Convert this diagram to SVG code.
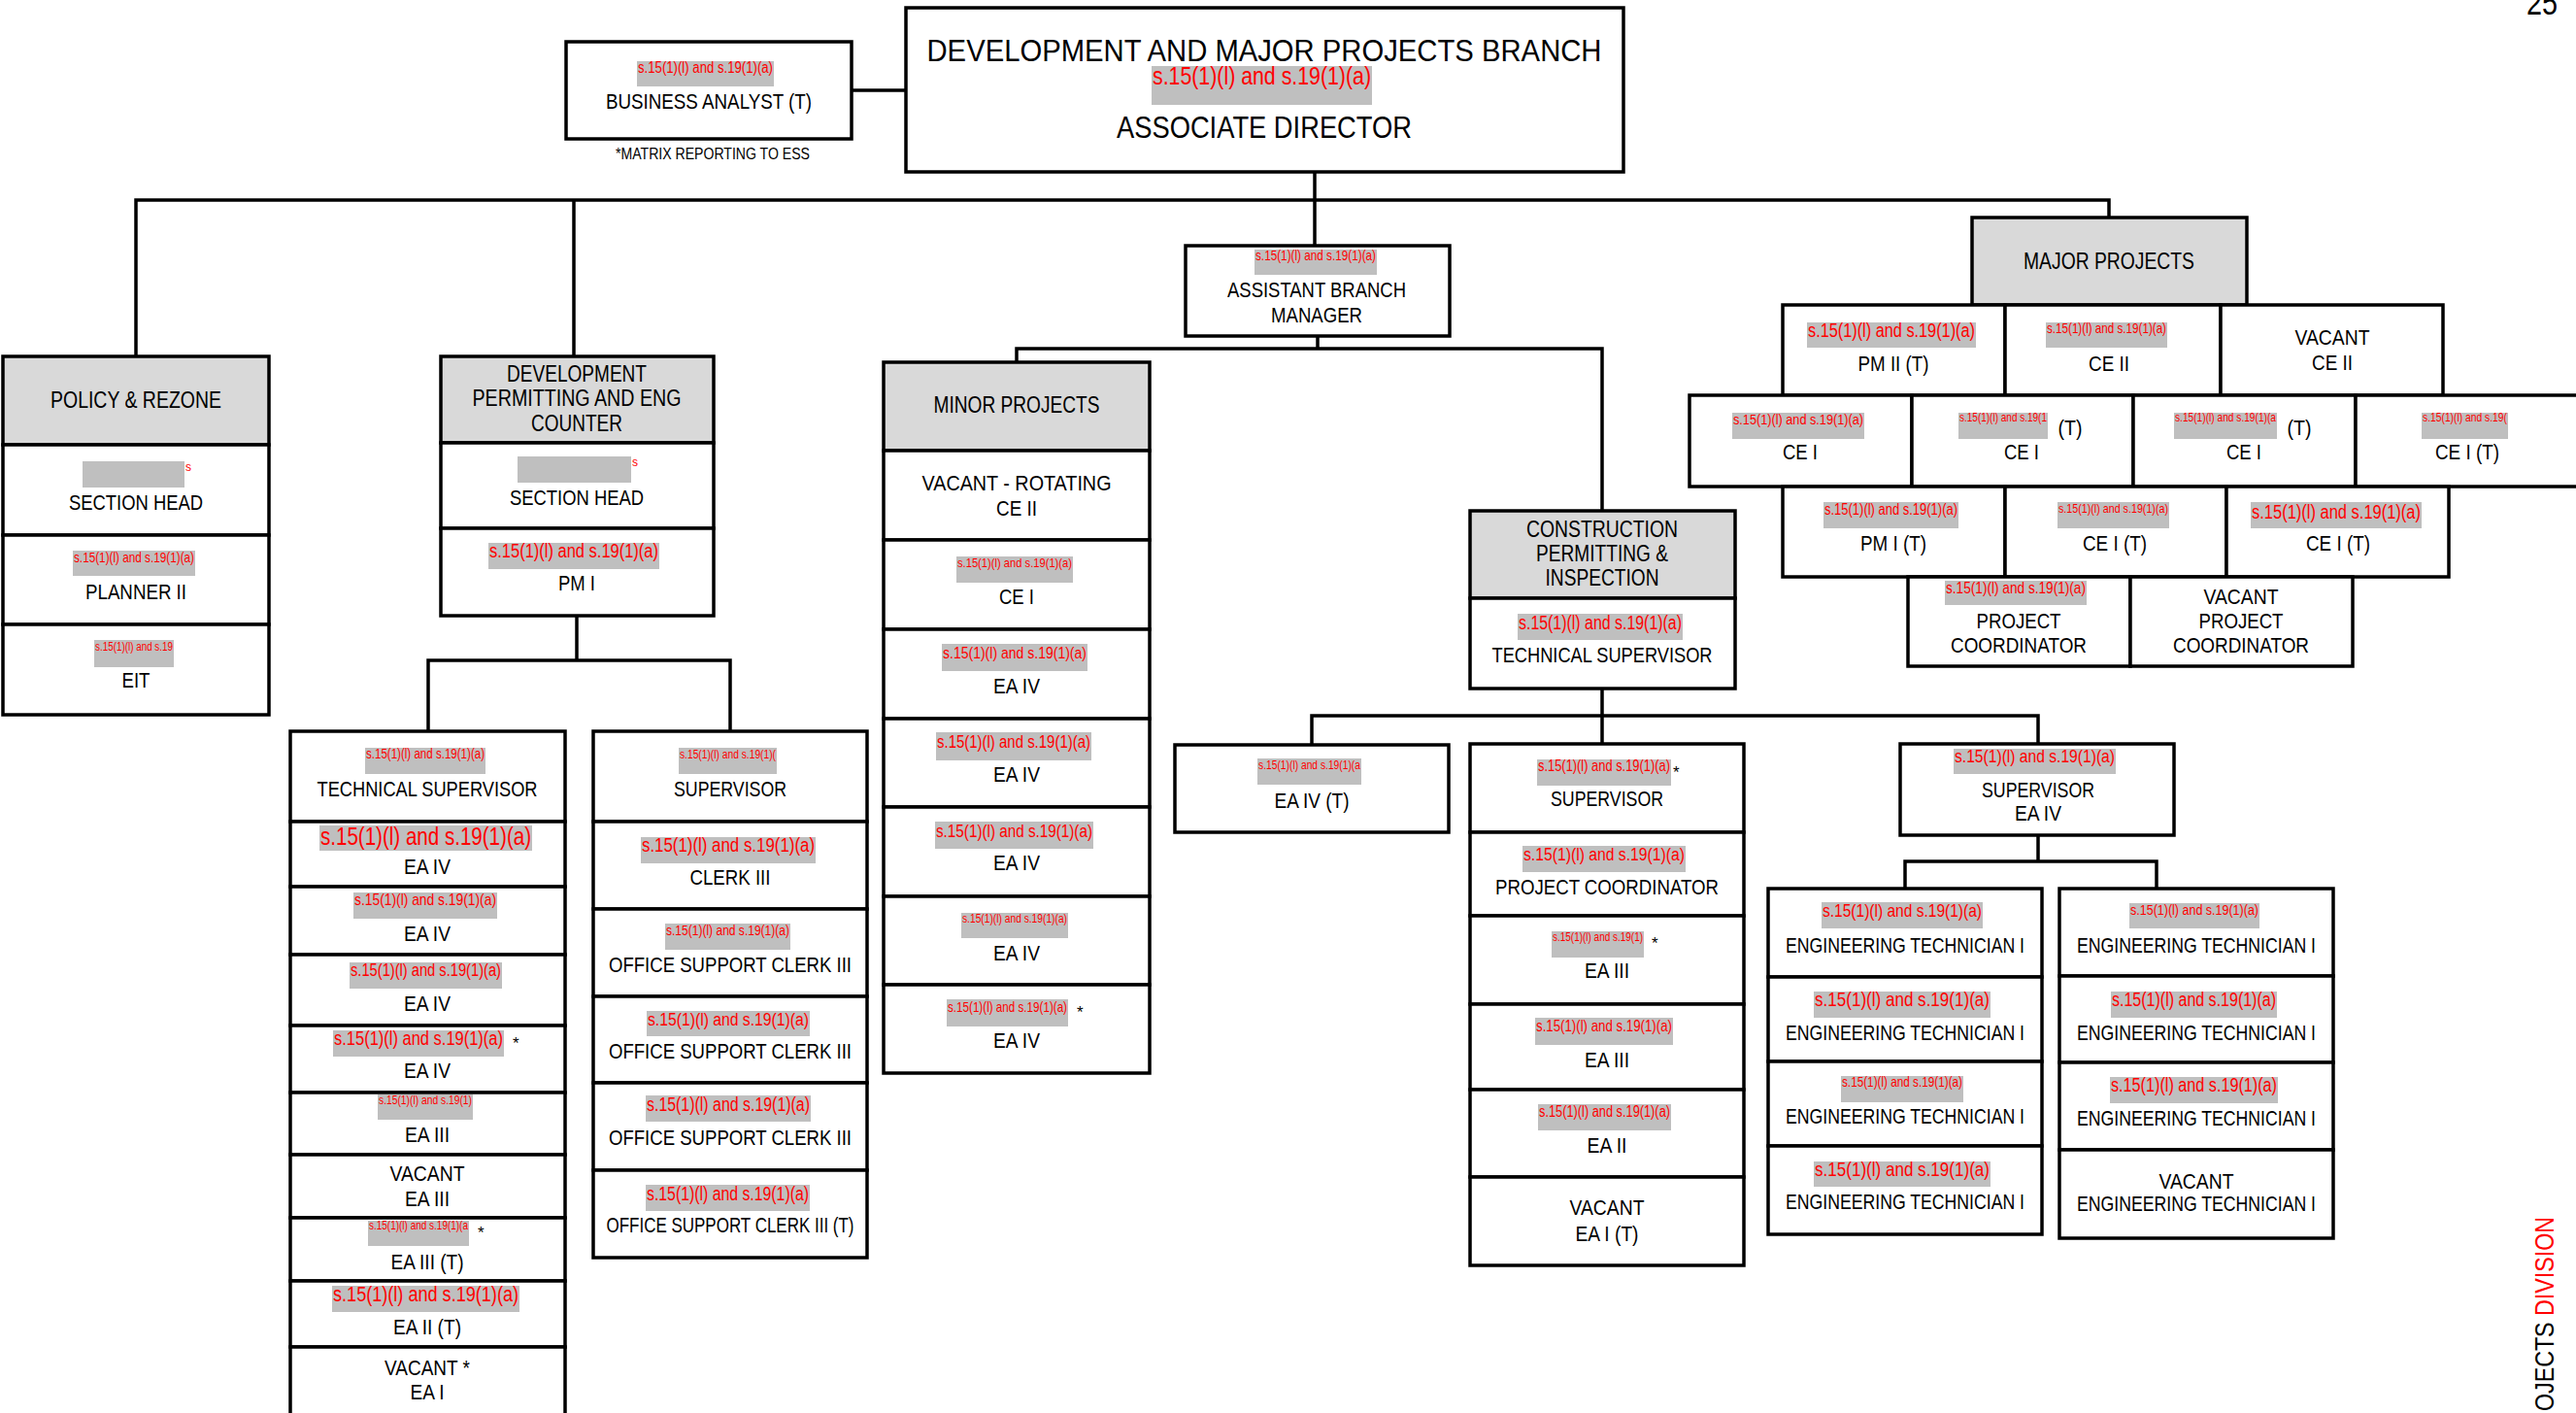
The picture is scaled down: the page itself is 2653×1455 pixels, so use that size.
<svg xmlns="http://www.w3.org/2000/svg" width="2653" height="1455" viewBox="0 0 2653 1455">
<style>
.b{fill:#fff;stroke:#000;stroke-width:3.5}
.h{fill:#d9d9d9;stroke:#000;stroke-width:3.5}
.g{fill:#bfbfbf}
text{font-family:"Liberation Sans",Arial,sans-serif}
.t{font-size:22px;fill:#000;text-anchor:middle}
.th{font-size:23.5px;fill:#000;text-anchor:middle}
.r{fill:#ff0000}
.s{font-size:17px;fill:#000}
.ln{fill:none;stroke:#000;stroke-width:3.5}
</style>
<rect width="2653" height="1455" fill="#fff"/>
<g id="connectors">
<path class="ln" d="M877,93 H933 M1354,177 V253 M140,367 V206 H2172 V224 M591,206 V367 M1357,346 V359 M1047,373 V359 H1650 V526 M594,634 V680 M441,753 V680 H752 V753 M1650,709 V766 M1351,767 V737 H2099 V766 M2099,860 V887 M1962,915 V887 H2221 V915"/>
</g>
<g id="associate-director">
<rect class="b" x="933" y="8" width="739" height="169"/>
<text x="1302" y="63" font-size="31" text-anchor="middle" textLength="695" lengthAdjust="spacingAndGlyphs">DEVELOPMENT AND MAJOR PROJECTS BRANCH</text>
<rect class="g" x="1186" y="68" width="227" height="40"/>
<text class="r" x="1187" y="87" font-size="26" textLength="225" lengthAdjust="spacingAndGlyphs">s.15(1)(l) and s.19(1)(a)</text>
<text x="1302" y="142" font-size="32" text-anchor="middle" textLength="304" lengthAdjust="spacingAndGlyphs">ASSOCIATE DIRECTOR</text>
</g>
<g id="business-analyst">
<rect class="b" x="583" y="43" width="294" height="100"/>
<rect class="g" x="656" y="63" width="141" height="26"/>
<text class="r" x="657" y="75" font-size="16" textLength="139" lengthAdjust="spacingAndGlyphs">s.15(1)(l) and s.19(1)(a)</text>
<text class="t" x="730" y="112" textLength="212" lengthAdjust="spacingAndGlyphs">BUSINESS ANALYST (T)</text>
<text class="s" x="734" y="164" text-anchor="middle" textLength="200" lengthAdjust="spacingAndGlyphs">*MATRIX REPORTING TO ESS</text>
</g>
<g id="assistant-branch-manager">
<rect class="b" x="1221" y="253" width="272" height="93"/>
<rect class="g" x="1292" y="257" width="126" height="26"/>
<text class="r" x="1293" y="268" font-size="14.3" textLength="124" lengthAdjust="spacingAndGlyphs">s.15(1)(l) and s.19(1)(a)</text>
<text class="t" x="1356" y="306" textLength="184" lengthAdjust="spacingAndGlyphs">ASSISTANT BRANCH</text>
<text class="t" x="1356" y="332" textLength="94" lengthAdjust="spacingAndGlyphs">MANAGER</text>
</g>
<g id="policy-rezone">
<rect class="h" x="3" y="367" width="274" height="91"/>
<text class="th" x="140" y="420" textLength="176" lengthAdjust="spacingAndGlyphs">POLICY &amp; REZONE</text>
</g>
<g id="policy-section-head">
<rect class="b" x="3" y="458" width="274" height="93"/>
<rect class="g" x="85" y="475" width="105" height="27"/>
<text class="r" x="191" y="485" font-size="12">s</text>
<text class="t" x="140" y="525" textLength="138" lengthAdjust="spacingAndGlyphs">SECTION HEAD</text>
</g>
<g id="policy-planner">
<rect class="b" x="3" y="551" width="274" height="92"/>
<rect class="g" x="75" y="567" width="126" height="26"/>
<text class="r" x="76" y="579" font-size="14.3" textLength="124" lengthAdjust="spacingAndGlyphs">s.15(1)(l) and s.19(1)(a)</text>
<text class="t" x="140" y="617" textLength="104" lengthAdjust="spacingAndGlyphs">PLANNER II</text>
</g>
<g id="policy-eit">
<rect class="b" x="3" y="643" width="274" height="93"/>
<rect class="g" x="97" y="659" width="82" height="28"/>
<text class="r" x="98" y="670" font-size="12" textLength="80" lengthAdjust="spacingAndGlyphs">s.15(1)(l) and s.19</text>
<text class="t" x="140" y="708" textLength="29" lengthAdjust="spacingAndGlyphs">EIT</text>
</g>
<g id="dev-permitting">
<rect class="h" x="454" y="367" width="281" height="89"/>
<text class="th" x="594" y="393" textLength="144" lengthAdjust="spacingAndGlyphs">DEVELOPMENT</text>
<text class="th" x="594" y="418" textLength="215" lengthAdjust="spacingAndGlyphs">PERMITTING AND ENG</text>
<text class="th" x="594" y="444" textLength="94" lengthAdjust="spacingAndGlyphs">COUNTER</text>
</g>
<g id="dev-section-head">
<rect class="b" x="454" y="456" width="281" height="88"/>
<rect class="g" x="533" y="470" width="117" height="27"/>
<text class="r" x="651" y="480" font-size="12">s</text>
<text class="t" x="594" y="520" textLength="138" lengthAdjust="spacingAndGlyphs">SECTION HEAD</text>
</g>
<g id="dev-pm1">
<rect class="b" x="454" y="544" width="281" height="90"/>
<rect class="g" x="503" y="559" width="176" height="27"/>
<text class="r" x="504" y="574" font-size="20" textLength="174" lengthAdjust="spacingAndGlyphs">s.15(1)(l) and s.19(1)(a)</text>
<text class="t" x="594" y="608" textLength="38" lengthAdjust="spacingAndGlyphs">PM I</text>
</g>
<g id="tech-col">
<g id="tech-supervisor">
<rect class="b" x="299" y="753" width="283" height="93"/>
<rect class="g" x="376" y="770" width="124" height="27"/>
<text class="r" x="377" y="781" font-size="14" textLength="122" lengthAdjust="spacingAndGlyphs">s.15(1)(l) and s.19(1)(a)</text>
<text class="t" x="440" y="820" textLength="227" lengthAdjust="spacingAndGlyphs">TECHNICAL SUPERVISOR</text>
</g>
<g id="tech-ea4-1">
<rect class="b" x="299" y="846" width="283" height="67"/>
<rect class="g" x="329" y="850" width="219" height="26"/>
<text class="r" x="330" y="870" font-size="25" textLength="217" lengthAdjust="spacingAndGlyphs">s.15(1)(l) and s.19(1)(a)</text>
<text class="t" x="440" y="900" textLength="48" lengthAdjust="spacingAndGlyphs">EA IV</text>
</g>
<g id="tech-ea4-2">
<rect class="b" x="299" y="913" width="283" height="70"/>
<rect class="g" x="364" y="919" width="148" height="27"/>
<text class="r" x="365" y="932" font-size="17" textLength="146" lengthAdjust="spacingAndGlyphs">s.15(1)(l) and s.19(1)(a)</text>
<text class="t" x="440" y="969" textLength="48" lengthAdjust="spacingAndGlyphs">EA IV</text>
</g>
<g id="tech-ea4-3">
<rect class="b" x="299" y="983" width="283" height="73"/>
<rect class="g" x="360" y="991" width="157" height="27"/>
<text class="r" x="361" y="1005" font-size="18" textLength="155" lengthAdjust="spacingAndGlyphs">s.15(1)(l) and s.19(1)(a)</text>
<text class="t" x="440" y="1041" textLength="48" lengthAdjust="spacingAndGlyphs">EA IV</text>
</g>
<g id="tech-ea4-4">
<rect class="b" x="299" y="1056" width="283" height="69"/>
<rect class="g" x="343" y="1061" width="176" height="27"/>
<text class="r" x="344" y="1076" font-size="20" textLength="174" lengthAdjust="spacingAndGlyphs">s.15(1)(l) and s.19(1)(a)</text>
<text class="s" x="528" y="1080">*</text>
<text class="t" x="440" y="1110" textLength="48" lengthAdjust="spacingAndGlyphs">EA IV</text>
</g>
<g id="tech-ea3-1">
<rect class="b" x="299" y="1125" width="283" height="64"/>
<rect class="g" x="389" y="1127" width="98" height="26"/>
<text class="r" x="390" y="1137" font-size="12.5" textLength="96" lengthAdjust="spacingAndGlyphs">s.15(1)(l) and s.19(1)</text>
<text class="t" x="440" y="1176" textLength="46" lengthAdjust="spacingAndGlyphs">EA III</text>
</g>
<g id="tech-ea3-vacant">
<rect class="b" x="299" y="1189" width="283" height="65"/>
<text class="t" x="440" y="1216" textLength="77" lengthAdjust="spacingAndGlyphs">VACANT</text>
<text class="t" x="440" y="1242" textLength="46" lengthAdjust="spacingAndGlyphs">EA III</text>
</g>
<g id="tech-ea3t">
<rect class="b" x="299" y="1254" width="283" height="65"/>
<rect class="g" x="379" y="1257" width="104" height="26"/>
<text class="r" x="380" y="1266" font-size="12.2" textLength="102" lengthAdjust="spacingAndGlyphs">s.15(1)(l) and s.19(1)(a</text>
<text class="s" x="492" y="1275">*</text>
<text class="t" x="440" y="1307" textLength="75" lengthAdjust="spacingAndGlyphs">EA III (T)</text>
</g>
<g id="tech-ea2t">
<rect class="b" x="299" y="1319" width="283" height="68"/>
<rect class="g" x="342" y="1324" width="193" height="27"/>
<text class="r" x="343" y="1340" font-size="22" textLength="191" lengthAdjust="spacingAndGlyphs">s.15(1)(l) and s.19(1)(a)</text>
<text class="t" x="440" y="1374" textLength="70" lengthAdjust="spacingAndGlyphs">EA II (T)</text>
</g>
<g id="tech-ea1-vacant">
<rect class="b" x="299" y="1387" width="283" height="90"/>
<text class="t" x="440" y="1416" textLength="88" lengthAdjust="spacingAndGlyphs">VACANT *</text>
<text class="t" x="440" y="1441" textLength="35" lengthAdjust="spacingAndGlyphs">EA I</text>
</g>
</g>
<g id="sup-col">
<g id="office-supervisor">
<rect class="b" x="611" y="753" width="282" height="93"/>
<rect class="g" x="699" y="770" width="101" height="27"/>
<text class="r" x="700" y="781" font-size="12.5" textLength="99" lengthAdjust="spacingAndGlyphs">s.15(1)(l) and s.19(1)(</text>
<text class="t" x="752" y="820" textLength="116" lengthAdjust="spacingAndGlyphs">SUPERVISOR</text>
</g>
<g id="clerk3">
<rect class="b" x="611" y="846" width="282" height="90"/>
<rect class="g" x="660" y="862" width="180" height="27"/>
<text class="r" x="661" y="877" font-size="20.5" textLength="178" lengthAdjust="spacingAndGlyphs">s.15(1)(l) and s.19(1)(a)</text>
<text class="t" x="752" y="911" textLength="83" lengthAdjust="spacingAndGlyphs">CLERK III</text>
</g>
<g id="osc3-1">
<rect class="b" x="611" y="936" width="282" height="90"/>
<rect class="g" x="685" y="951" width="129" height="27"/>
<text class="r" x="686" y="963" font-size="14.7" textLength="127" lengthAdjust="spacingAndGlyphs">s.15(1)(l) and s.19(1)(a)</text>
<text class="t" x="752" y="1001" textLength="250" lengthAdjust="spacingAndGlyphs">OFFICE SUPPORT CLERK III</text>
</g>
<g id="osc3-2">
<rect class="b" x="611" y="1026" width="282" height="89"/>
<rect class="g" x="666" y="1041" width="168" height="26"/>
<text class="r" x="667" y="1056" font-size="19.2" textLength="166" lengthAdjust="spacingAndGlyphs">s.15(1)(l) and s.19(1)(a)</text>
<text class="t" x="752" y="1090" textLength="250" lengthAdjust="spacingAndGlyphs">OFFICE SUPPORT CLERK III</text>
</g>
<g id="osc3-3">
<rect class="b" x="611" y="1115" width="282" height="90"/>
<rect class="g" x="665" y="1128" width="170" height="27"/>
<text class="r" x="666" y="1144" font-size="19.4" textLength="168" lengthAdjust="spacingAndGlyphs">s.15(1)(l) and s.19(1)(a)</text>
<text class="t" x="752" y="1179" textLength="250" lengthAdjust="spacingAndGlyphs">OFFICE SUPPORT CLERK III</text>
</g>
<g id="osc3t">
<rect class="b" x="611" y="1205" width="282" height="90"/>
<rect class="g" x="665" y="1220" width="169" height="27"/>
<text class="r" x="666" y="1236" font-size="19.3" textLength="167" lengthAdjust="spacingAndGlyphs">s.15(1)(l) and s.19(1)(a)</text>
<text class="t" x="752" y="1269" font-size="20.6" textLength="255" lengthAdjust="spacingAndGlyphs">OFFICE SUPPORT CLERK III (T)</text>
</g>
</g>
<g id="minor-col">
<g id="minor-projects">
<rect class="h" x="910" y="373" width="274" height="91"/>
<text class="th" x="1047" y="425" textLength="171" lengthAdjust="spacingAndGlyphs">MINOR PROJECTS</text>
</g>
<g id="minor-ce2">
<rect class="b" x="910" y="464" width="274" height="92"/>
<text class="t" x="1047" y="505" textLength="195" lengthAdjust="spacingAndGlyphs">VACANT - ROTATING</text>
<text class="t" x="1047" y="531" textLength="42" lengthAdjust="spacingAndGlyphs">CE II</text>
</g>
<g id="minor-ce1">
<rect class="b" x="910" y="556" width="274" height="92"/>
<rect class="g" x="985" y="573" width="120" height="27"/>
<text class="r" x="986" y="584" font-size="13.6" textLength="118" lengthAdjust="spacingAndGlyphs">s.15(1)(l) and s.19(1)(a)</text>
<text class="t" x="1047" y="622" textLength="36" lengthAdjust="spacingAndGlyphs">CE I</text>
</g>
<g id="minor-ea4-1">
<rect class="b" x="910" y="648" width="274" height="92"/>
<rect class="g" x="970" y="663" width="150" height="28"/>
<text class="r" x="971" y="678" font-size="17.1" textLength="148" lengthAdjust="spacingAndGlyphs">s.15(1)(l) and s.19(1)(a)</text>
<text class="t" x="1047" y="714" textLength="48" lengthAdjust="spacingAndGlyphs">EA IV</text>
</g>
<g id="minor-ea4-2">
<rect class="b" x="910" y="740" width="274" height="91"/>
<rect class="g" x="964" y="754" width="160" height="29"/>
<text class="r" x="965" y="770" font-size="18.3" textLength="158" lengthAdjust="spacingAndGlyphs">s.15(1)(l) and s.19(1)(a)</text>
<text class="t" x="1047" y="805" textLength="48" lengthAdjust="spacingAndGlyphs">EA IV</text>
</g>
<g id="minor-ea4-3">
<rect class="b" x="910" y="831" width="274" height="92"/>
<rect class="g" x="963" y="846" width="163" height="28"/>
<text class="r" x="964" y="862" font-size="18.6" textLength="161" lengthAdjust="spacingAndGlyphs">s.15(1)(l) and s.19(1)(a)</text>
<text class="t" x="1047" y="896" textLength="48" lengthAdjust="spacingAndGlyphs">EA IV</text>
</g>
<g id="minor-ea4-4">
<rect class="b" x="910" y="923" width="274" height="91"/>
<rect class="g" x="990" y="940" width="110" height="26"/>
<text class="r" x="991" y="950" font-size="12.5" textLength="108" lengthAdjust="spacingAndGlyphs">s.15(1)(l) and s.19(1)(a)</text>
<text class="t" x="1047" y="989" textLength="48" lengthAdjust="spacingAndGlyphs">EA IV</text>
</g>
<g id="minor-ea4-5">
<rect class="b" x="910" y="1014" width="274" height="91"/>
<rect class="g" x="975" y="1029" width="125" height="28"/>
<text class="r" x="976" y="1042" font-size="14.2" textLength="123" lengthAdjust="spacingAndGlyphs">s.15(1)(l) and s.19(1)(a)</text>
<text class="s" x="1109" y="1048">*</text>
<text class="t" x="1047" y="1079" textLength="48" lengthAdjust="spacingAndGlyphs">EA IV</text>
</g>
</g>
<g id="construction">
<rect class="h" x="1514" y="526" width="273" height="90"/>
<text class="th" x="1650" y="553" textLength="156" lengthAdjust="spacingAndGlyphs">CONSTRUCTION</text>
<text class="th" x="1650" y="578" textLength="136" lengthAdjust="spacingAndGlyphs">PERMITTING &amp;</text>
<text class="th" x="1650" y="603" textLength="117" lengthAdjust="spacingAndGlyphs">INSPECTION</text>
</g>
<g id="construction-tech-supervisor">
<rect class="b" x="1514" y="616" width="273" height="93"/>
<rect class="g" x="1563" y="632" width="170" height="27"/>
<text class="r" x="1564" y="648" font-size="19.4" textLength="168" lengthAdjust="spacingAndGlyphs">s.15(1)(l) and s.19(1)(a)</text>
<text class="t" x="1650" y="682" textLength="227" lengthAdjust="spacingAndGlyphs">TECHNICAL SUPERVISOR</text>
</g>
<g id="ea4t">
<rect class="b" x="1210" y="767" width="282" height="90"/>
<rect class="g" x="1295" y="781" width="107" height="27"/>
<text class="r" x="1296" y="792" font-size="12.5" textLength="105" lengthAdjust="spacingAndGlyphs">s.15(1)(l) and s.19(1)(a</text>
<text class="t" x="1351" y="832" textLength="77" lengthAdjust="spacingAndGlyphs">EA IV (T)</text>
</g>
<g id="con-col">
<g id="con-supervisor">
<rect class="b" x="1514" y="766" width="282" height="91"/>
<rect class="g" x="1583" y="782" width="138" height="27"/>
<text class="r" x="1584" y="794" font-size="15.7" textLength="136" lengthAdjust="spacingAndGlyphs">s.15(1)(l) and s.19(1)(a)</text>
<text class="s" x="1723" y="801">*</text>
<text class="t" x="1655" y="830" textLength="116" lengthAdjust="spacingAndGlyphs">SUPERVISOR</text>
</g>
<g id="con-project-coordinator">
<rect class="b" x="1514" y="857" width="282" height="86"/>
<rect class="g" x="1568" y="871" width="168" height="27"/>
<text class="r" x="1569" y="886" font-size="19.2" textLength="166" lengthAdjust="spacingAndGlyphs">s.15(1)(l) and s.19(1)(a)</text>
<text class="t" x="1655" y="921" textLength="230" lengthAdjust="spacingAndGlyphs">PROJECT COORDINATOR</text>
</g>
<g id="con-ea3-1">
<rect class="b" x="1514" y="943" width="282" height="91"/>
<rect class="g" x="1598" y="959" width="95" height="27"/>
<text class="r" x="1599" y="969" font-size="12.1" textLength="93" lengthAdjust="spacingAndGlyphs">s.15(1)(l) and s.19(1)</text>
<text class="s" x="1701" y="977">*</text>
<text class="t" x="1655" y="1007" textLength="46" lengthAdjust="spacingAndGlyphs">EA III</text>
</g>
<g id="con-ea3-2">
<rect class="b" x="1514" y="1034" width="282" height="88"/>
<rect class="g" x="1581" y="1048" width="142" height="28"/>
<text class="r" x="1582" y="1062" font-size="16.2" textLength="140" lengthAdjust="spacingAndGlyphs">s.15(1)(l) and s.19(1)(a)</text>
<text class="t" x="1655" y="1099" textLength="46" lengthAdjust="spacingAndGlyphs">EA III</text>
</g>
<g id="con-ea2">
<rect class="b" x="1514" y="1122" width="282" height="90"/>
<rect class="g" x="1584" y="1137" width="137" height="27"/>
<text class="r" x="1585" y="1150" font-size="15.6" textLength="135" lengthAdjust="spacingAndGlyphs">s.15(1)(l) and s.19(1)(a)</text>
<text class="t" x="1655" y="1187" textLength="41" lengthAdjust="spacingAndGlyphs">EA II</text>
</g>
<g id="con-ea1t-vacant">
<rect class="b" x="1514" y="1212" width="282" height="91"/>
<text class="t" x="1655" y="1251" textLength="77" lengthAdjust="spacingAndGlyphs">VACANT</text>
<text class="t" x="1655" y="1278" textLength="65" lengthAdjust="spacingAndGlyphs">EA I (T)</text>
</g>
</g>
<g id="supervisor-ea4">
<rect class="b" x="1957" y="766" width="282" height="94"/>
<rect class="g" x="2012" y="771" width="167" height="26"/>
<text class="r" x="2013" y="785" font-size="19" textLength="165" lengthAdjust="spacingAndGlyphs">s.15(1)(l) and s.19(1)(a)</text>
<text class="t" x="2099" y="821" textLength="116" lengthAdjust="spacingAndGlyphs">SUPERVISOR</text>
<text class="t" x="2099" y="845" textLength="48" lengthAdjust="spacingAndGlyphs">EA IV</text>
</g>
<g id="eng-col1">
<g id="et1-1">
<rect class="b" x="1821" y="915" width="282" height="91"/>
<rect class="g" x="1876" y="929" width="166" height="27"/>
<text class="r" x="1877" y="944" font-size="19" textLength="164" lengthAdjust="spacingAndGlyphs">s.15(1)(l) and s.19(1)(a)</text>
<text class="t" x="1962" y="981" textLength="246" lengthAdjust="spacingAndGlyphs">ENGINEERING TECHNICIAN I</text>
</g>
<g id="et1-2">
<rect class="b" x="1821" y="1006" width="282" height="87"/>
<rect class="g" x="1868" y="1021" width="182" height="27"/>
<text class="r" x="1869" y="1036" font-size="20.8" textLength="180" lengthAdjust="spacingAndGlyphs">s.15(1)(l) and s.19(1)(a)</text>
<text class="t" x="1962" y="1071" textLength="246" lengthAdjust="spacingAndGlyphs">ENGINEERING TECHNICIAN I</text>
</g>
<g id="et1-3">
<rect class="b" x="1821" y="1093" width="282" height="87"/>
<rect class="g" x="1896" y="1108" width="126" height="27"/>
<text class="r" x="1897" y="1119" font-size="14.3" textLength="124" lengthAdjust="spacingAndGlyphs">s.15(1)(l) and s.19(1)(a)</text>
<text class="t" x="1962" y="1157" textLength="246" lengthAdjust="spacingAndGlyphs">ENGINEERING TECHNICIAN I</text>
</g>
<g id="et1-4">
<rect class="b" x="1821" y="1180" width="282" height="91"/>
<rect class="g" x="1868" y="1196" width="182" height="26"/>
<text class="r" x="1869" y="1211" font-size="20.8" textLength="180" lengthAdjust="spacingAndGlyphs">s.15(1)(l) and s.19(1)(a)</text>
<text class="t" x="1962" y="1245" textLength="246" lengthAdjust="spacingAndGlyphs">ENGINEERING TECHNICIAN I</text>
</g>
</g>
<g id="eng-col2">
<g id="et2-1">
<rect class="b" x="2121" y="915" width="282" height="90"/>
<rect class="g" x="2193" y="930" width="134" height="26"/>
<text class="r" x="2194" y="942" font-size="15.2" textLength="132" lengthAdjust="spacingAndGlyphs">s.15(1)(l) and s.19(1)(a)</text>
<text class="t" x="2262" y="981" textLength="246" lengthAdjust="spacingAndGlyphs">ENGINEERING TECHNICIAN I</text>
</g>
<g id="et2-2">
<rect class="b" x="2121" y="1005" width="282" height="89"/>
<rect class="g" x="2174" y="1021" width="171" height="27"/>
<text class="r" x="2175" y="1036" font-size="19.5" textLength="169" lengthAdjust="spacingAndGlyphs">s.15(1)(l) and s.19(1)(a)</text>
<text class="t" x="2262" y="1071" textLength="246" lengthAdjust="spacingAndGlyphs">ENGINEERING TECHNICIAN I</text>
</g>
<g id="et2-3">
<rect class="b" x="2121" y="1094" width="282" height="90"/>
<rect class="g" x="2173" y="1109" width="173" height="27"/>
<text class="r" x="2174" y="1124" font-size="19.7" textLength="171" lengthAdjust="spacingAndGlyphs">s.15(1)(l) and s.19(1)(a)</text>
<text class="t" x="2262" y="1159" textLength="246" lengthAdjust="spacingAndGlyphs">ENGINEERING TECHNICIAN I</text>
</g>
<g id="et2-4">
<rect class="b" x="2121" y="1184" width="282" height="91"/>
<text class="t" x="2262" y="1224" textLength="77" lengthAdjust="spacingAndGlyphs">VACANT</text>
<text class="t" x="2262" y="1247" textLength="246" lengthAdjust="spacingAndGlyphs">ENGINEERING TECHNICIAN I</text>
</g>
</g>
<g id="major-projects">
<rect class="h" x="2031" y="224" width="283" height="90"/>
<text class="th" x="2172" y="277" textLength="176" lengthAdjust="spacingAndGlyphs">MAJOR PROJECTS</text>
</g>
<g id="major-row1">
<g id="mp-pm2t">
<rect class="b" x="1836" y="314" width="229" height="93"/>
<rect class="g" x="1861" y="332" width="174" height="26"/>
<text class="r" x="1862" y="347" font-size="19.9" textLength="172" lengthAdjust="spacingAndGlyphs">s.15(1)(l) and s.19(1)(a)</text>
<text class="t" x="1950" y="382" textLength="73" lengthAdjust="spacingAndGlyphs">PM II (T)</text>
</g>
<g id="mp-ce2">
<rect class="b" x="2065" y="314" width="222" height="93"/>
<rect class="g" x="2107" y="332" width="125" height="26"/>
<text class="r" x="2108" y="343" font-size="14.2" textLength="123" lengthAdjust="spacingAndGlyphs">s.15(1)(l) and s.19(1)(a)</text>
<text class="t" x="2172" y="382" textLength="42" lengthAdjust="spacingAndGlyphs">CE II</text>
</g>
<g id="mp-ce2-vacant">
<rect class="b" x="2287" y="314" width="229" height="93"/>
<text class="t" x="2402" y="355" textLength="77" lengthAdjust="spacingAndGlyphs">VACANT</text>
<text class="t" x="2402" y="381" textLength="42" lengthAdjust="spacingAndGlyphs">CE II</text>
</g>
</g>
<g id="major-row2">
<g id="mp-ce1-1">
<rect class="b" x="1740" y="407" width="229" height="94"/>
<rect class="g" x="1784" y="425" width="136" height="27"/>
<text class="r" x="1785" y="437" font-size="15.5" textLength="134" lengthAdjust="spacingAndGlyphs">s.15(1)(l) and s.19(1)(a)</text>
<text class="t" x="1854" y="473" textLength="36" lengthAdjust="spacingAndGlyphs">CE I</text>
</g>
<g id="mp-ce1-2">
<rect class="b" x="1969" y="407" width="228" height="94"/>
<rect class="g" x="2017" y="425" width="92" height="27"/>
<text class="r" x="2018" y="434" font-size="12.2" textLength="90" lengthAdjust="spacingAndGlyphs">s.15(1)(l) and s.19(1</text>
<text class="t" x="2132" y="448" textLength="25" lengthAdjust="spacingAndGlyphs">(T)</text>
<text class="t" x="2082" y="473" textLength="36" lengthAdjust="spacingAndGlyphs">CE I</text>
</g>
<g id="mp-ce1-3">
<rect class="b" x="2197" y="407" width="229" height="94"/>
<rect class="g" x="2239" y="425" width="106" height="27"/>
<text class="r" x="2240" y="434" font-size="12.4" textLength="104" lengthAdjust="spacingAndGlyphs">s.15(1)(l) and s.19(1)(a</text>
<text class="t" x="2368" y="448" textLength="25" lengthAdjust="spacingAndGlyphs">(T)</text>
<text class="t" x="2311" y="473" textLength="36" lengthAdjust="spacingAndGlyphs">CE I</text>
</g>
<g id="mp-ce1t-1">
<rect class="b" x="2426" y="407" width="240" height="94"/>
<rect class="g" x="2494" y="425" width="89" height="27"/>
<text class="r" x="2495" y="434" font-size="12.6" textLength="87" lengthAdjust="spacingAndGlyphs">s.15(1)(l) and s.19(</text>
<text class="t" x="2541" y="473" textLength="66" lengthAdjust="spacingAndGlyphs">CE I (T)</text>
</g>
</g>
<g id="major-row3">
<g id="mp-pm1t">
<rect class="b" x="1836" y="501" width="229" height="93"/>
<rect class="g" x="1878" y="517" width="139" height="27"/>
<text class="r" x="1879" y="530" font-size="15.8" textLength="137" lengthAdjust="spacingAndGlyphs">s.15(1)(l) and s.19(1)(a)</text>
<text class="t" x="1950" y="567" textLength="68" lengthAdjust="spacingAndGlyphs">PM I (T)</text>
</g>
<g id="mp-ce1t-2">
<rect class="b" x="2065" y="501" width="228" height="93"/>
<rect class="g" x="2119" y="517" width="115" height="27"/>
<text class="r" x="2120" y="528" font-size="13" textLength="113" lengthAdjust="spacingAndGlyphs">s.15(1)(l) and s.19(1)(a)</text>
<text class="t" x="2178" y="567" textLength="66" lengthAdjust="spacingAndGlyphs">CE I (T)</text>
</g>
<g id="mp-ce1t-3">
<rect class="b" x="2293" y="501" width="229" height="93"/>
<rect class="g" x="2318" y="517" width="176" height="27"/>
<text class="r" x="2319" y="534" font-size="20" textLength="174" lengthAdjust="spacingAndGlyphs">s.15(1)(l) and s.19(1)(a)</text>
<text class="t" x="2408" y="567" textLength="66" lengthAdjust="spacingAndGlyphs">CE I (T)</text>
</g>
</g>
<g id="major-row4">
<g id="mp-coord">
<rect class="b" x="1965" y="594" width="229" height="92"/>
<rect class="g" x="2003" y="598" width="146" height="25"/>
<text class="r" x="2004" y="611" font-size="16.6" textLength="144" lengthAdjust="spacingAndGlyphs">s.15(1)(l) and s.19(1)(a)</text>
<text class="t" x="2079" y="647" textLength="87" lengthAdjust="spacingAndGlyphs">PROJECT</text>
<text class="t" x="2079" y="672" textLength="140" lengthAdjust="spacingAndGlyphs">COORDINATOR</text>
</g>
<g id="mp-coord-vacant">
<rect class="b" x="2194" y="594" width="229" height="92"/>
<text class="t" x="2308" y="622" textLength="77" lengthAdjust="spacingAndGlyphs">VACANT</text>
<text class="t" x="2308" y="647" textLength="87" lengthAdjust="spacingAndGlyphs">PROJECT</text>
<text class="t" x="2308" y="672" textLength="140" lengthAdjust="spacingAndGlyphs">COORDINATOR</text>
</g>
</g>
<text x="2618" y="15" font-size="35" text-anchor="middle" textLength="32" lengthAdjust="spacingAndGlyphs">25</text>
<text transform="translate(2630,1253) rotate(-90)" font-size="28" text-anchor="end" textLength="200" lengthAdjust="spacingAndGlyphs">OJECTS <tspan fill="#ff0000">DIVISION</tspan></text>
</svg>
